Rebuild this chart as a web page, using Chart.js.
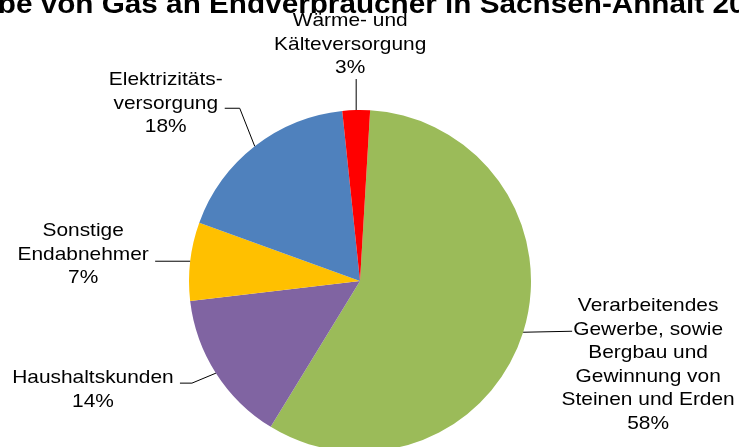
<!DOCTYPE html>
<html>
<head>
<meta charset="utf-8">
<script src="https://cdn.jsdelivr.net/npm/chart.js@4.4.0/dist/chart.umd.min.js"></script>
<style>
html, body { margin: 0; padding: 0; background: #fff; }
#wrap { width: 739px; height: 447px; overflow: hidden; }
</style>
</head>
<body>
<div id="wrap"><canvas id="myChart" width="739" height="470"></canvas></div>
<script>
const titleText = "Abgabe von Gas an Endverbraucher in Sachsen-Anhalt 2013";
const categories = [
    ["Verarbeitendes", "Gewerbe, sowie", "Bergbau und", "Gewinnung von", "Steinen und Erden"],
    ["Haushaltskunden"],
    ["Sonstige", "Endabnehmer"],
    ["Elektrizitäts-", "versorgung"],
    ["Wärme- und", "Kälteversorgung"]
];
const shares = [57.8, 14.4, 7.4, 17.8, 2.6];
const sliceColors = ["#9bbb59", "#8064a2", "#ffc000", "#4f81bd", "#ff0000"];

// label placement, relative to the outer middle point of each slice
const leaders = [
    {path: [[49, -1]], dx: 125, dy: -21},
    {path: [[-24, 10], [-36, 10]], dx: -123, dy: 10},
    {path: [[-35, 0]], dx: -107, dy: -25},
    {path: [[-15, -38], [-30, -38]], dx: -89, dy: -61},
    {path: [[0, -31]], dx: -6, dy: -84}
];
const fontFamily = "'Liberation Sans', Arial, sans-serif";
const lineH = 23.5;

function stretchedText(ctx, txt, x, y) {
    ctx.save();
    ctx.translate(x, y);
    ctx.scale(1.1, 1);
    ctx.fillText(txt, 0, 0);
    ctx.restore();
}

const pieLabels = {
    id: "pieLabels",
    afterDraw(chart) {
        const ctx = chart.ctx;
        const meta = chart.getDatasetMeta(0);
        const total = shares.reduce((a, b) => a + b, 0);
        ctx.save();
        ctx.fillStyle = "#000";
        ctx.strokeStyle = "#000";
        ctx.lineWidth = 1;
        ctx.textAlign = "center";
        ctx.textBaseline = "alphabetic";

        // title (wider than the picture, gets cut on both sides)
        ctx.font = "bold 27px " + fontFamily;
        stretchedText(ctx, titleText, 351, 13);

        ctx.font = "19px " + fontFamily;
        meta.data.forEach((arc, i) => {
            const p = arc.getProps(["x", "y", "startAngle", "endAngle", "outerRadius"], true);
            const mid = (p.startAngle + p.endAngle) / 2;
            const ax = p.x + Math.cos(mid) * p.outerRadius;
            const ay = p.y + Math.sin(mid) * p.outerRadius;
            const lay = leaders[i];

            ctx.beginPath();
            ctx.moveTo(ax, ay);
            lay.path.forEach(pt => ctx.lineTo(ax + pt[0], ay + pt[1]));
            ctx.stroke();

            const lines = categories[i].concat([Math.round(shares[i] / total * 100) + "%"]);
            lines.forEach((ln, k) => {
                stretchedText(ctx, ln, ax + lay.dx, ay + lay.dy + k * lineH);
            });
        });
        ctx.restore();
    }
};

new Chart("myChart", {
    type: "pie",
    data: {
        labels: categories,
        datasets: [{
            data: shares,
            backgroundColor: sliceColors,
            borderWidth: 0,
            hoverOffset: 0
        }]
    },
    options: {
        responsive: false,
        animation: false,
        rotation: 3.4,
        layout: {
            padding: {left: 189, right: 208, top: 110, bottom: 18}
        },
        plugins: {
            legend: {display: false},
            tooltip: {enabled: false},
            title: {display: false}
        }
    },
    plugins: [pieLabels]
});
</script>
</body>
</html>
